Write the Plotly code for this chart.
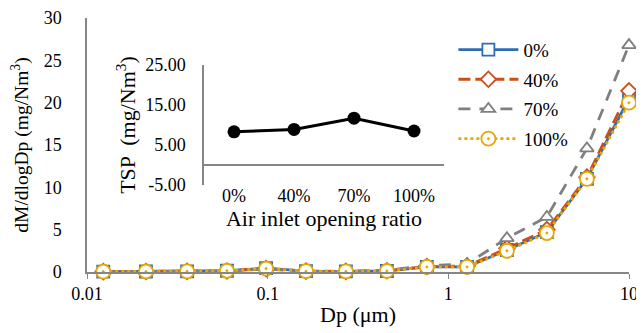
import plotly.graph_objects as go

# Main chart data
dp = [0.0123, 0.0212, 0.0358, 0.0595, 0.098, 0.163, 0.271, 0.457, 0.76, 1.27, 2.11, 3.51, 5.85, 10.0]
s0 = [0.05, 0.06, 0.08, 0.15, 0.45, 0.10, 0.08, 0.12, 0.60, 0.60, 2.6, 4.7, 11.0, 20.5]
s40 = [0.05, 0.06, 0.08, 0.12, 0.40, 0.10, 0.08, 0.15, 0.65, 0.70, 2.8, 5.0, 11.2, 21.4]
s70 = [0.04, 0.05, 0.07, 0.10, 0.35, 0.08, 0.06, 0.20, 0.75, 0.95, 4.0, 6.5, 14.6, 26.8]
s100 = [0.05, 0.06, 0.08, 0.14, 0.40, 0.10, 0.08, 0.12, 0.60, 0.60, 2.5, 4.6, 11.0, 20.0]
series_names = ["0%", "40%", "70%", "100%"]

# Inset data
ratio_labels = ["0%", "40%", "70%", "100%"]
tsp = [8.3, 8.9, 11.7, 8.5]

FONT = "Liberation Serif, Times New Roman, serif"
AX = "#868686"

styles = [
    dict(color="#2E6DB4", dash="solid", symbol="square", size=12),
    dict(color="#C8501A", dash="12px,5px", symbol="diamond", size=12),
    dict(color="#7F7F7F", dash="12px,9px", symbol="triangle-up", size=12),
    dict(color="#E8A800", dash="3px,3px", symbol="circle-dot", size=14),
]

fig = go.Figure()
for name, ys, st in zip(series_names, [s0, s40, s70, s100], styles):
    fig.add_trace(go.Scatter(
        x=dp, y=ys, name=name, legendgroup=name, mode="lines+markers",
        line=dict(color=st["color"], width=2.8, dash=st["dash"]),
        marker=dict(symbol=st["symbol"], size=st["size"], color="white",
                    line=dict(color=st["color"], width=1.8)),
        cliponaxis=False,
    ))

fig.add_trace(go.Scatter(
    x=ratio_labels, y=tsp, mode="lines+markers", showlegend=False,
    xaxis="x2", yaxis="y2",
    line=dict(color="black", width=3),
    marker=dict(color="black", size=13),
))

fig.update_layout(
    width=636, height=325,
    margin=dict(l=79, r=15, t=10, b=61, autoexpand=False),
    paper_bgcolor="white", plot_bgcolor="white",
    font=dict(family=FONT, size=18, color="black"),
    xaxis=dict(
        type="log", range=[-2, 1], automargin=False,
        tickvals=[0.01, 0.1, 1, 10], ticktext=["0.01", "0.1", "1", "10"],
        showline=True, linecolor=AX, linewidth=1.5,
        ticks="outside", ticklen=5, tickcolor=AX,
        showgrid=False, zeroline=False,
        title=dict(text="Dp (μm)", standoff=3),
    ),
    yaxis=dict(
        range=[0, 30], dtick=5, automargin=False,
        showline=True, linecolor=AX, linewidth=1.5,
        showgrid=False, zeroline=False, ticks="",
        ticklabelstandoff=20,
        title=dict(text="dM/dlogDp (mg/Nm<sup>3</sup>)", standoff=11,
                   font=dict(size=19.5)),
    ),
    xaxis2=dict(
        domain=[0.2159, 0.6587], anchor="y2", type="category", automargin=False,
        showline=False, showgrid=False, zeroline=False, ticks="",
        range=[-0.5, 3.5], ticklabelstandoff=-2,
        title=dict(text="Air inlet opening ratio", standoff=0),
    ),
    yaxis2=dict(
        domain=[0.3425, 0.815], anchor="x2", range=[-5, 25], automargin=False,
        tickvals=[-5, 5, 15, 25], ticktext=["-5.00", "5.00", "15.00", "25.00"],
        showline=True, linecolor=AX, linewidth=1.5,
        zeroline=True, zerolinecolor=AX, zerolinewidth=1.5,
        showgrid=False, ticks="", ticklabelstandoff=13,
        title=dict(text="TSP  (mg/Nm<sup>3</sup>)", standoff=3),
    ),
    legend=dict(
        x=0.676, y=0.95, xanchor="left", yanchor="top",
        bgcolor="rgba(0,0,0,0)", font=dict(size=19),
        itemwidth=60, tracegroupgap=2,
    ),
)

fig.write_html("out.html")
